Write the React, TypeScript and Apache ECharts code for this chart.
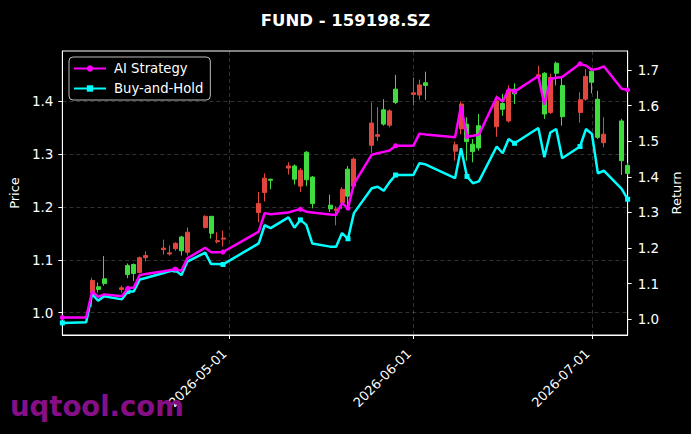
import React, { useEffect, useRef } from 'react';
import * as echarts from 'echarts';

// ---- data ----
const dates = [
  '2026-04-03', '2026-04-07', '2026-04-08', '2026-04-09', '2026-04-10', '2026-04-13', '2026-04-14', '2026-04-15',
  '2026-04-16', '2026-04-17', '2026-04-20', '2026-04-21', '2026-04-22', '2026-04-23', '2026-04-24', '2026-04-27',
  '2026-04-28', '2026-04-29', '2026-04-30',
  '2026-05-06', '2026-05-07', '2026-05-08', '2026-05-11', '2026-05-12', '2026-05-13', '2026-05-14', '2026-05-15',
  '2026-05-18', '2026-05-19', '2026-05-20', '2026-05-21', '2026-05-22', '2026-05-25', '2026-05-26', '2026-05-27',
  '2026-05-28', '2026-05-29',
  '2026-06-01', '2026-06-02', '2026-06-03', '2026-06-08', '2026-06-09', '2026-06-10', '2026-06-11', '2026-06-12',
  '2026-06-15', '2026-06-16', '2026-06-17', '2026-06-18', '2026-06-22', '2026-06-23', '2026-06-24', '2026-06-25',
  '2026-06-26', '2026-06-29', '2026-06-30',
  '2026-07-01', '2026-07-02', '2026-07-03', '2026-07-06', '2026-07-07',
];

const aiStrategy = [
  1.005, 1.005, 1.079, 1.063, 1.070, 1.065, 1.087, 1.089, 1.124, 1.127, 1.135, 1.138, 1.141, 1.136, 1.171, 1.201,
  1.188, 1.188, 1.189,
  1.246, 1.298, 1.295, 1.300, 1.305, 1.309, 1.302, 1.300, 1.294, 1.293, 1.326, 1.312, 1.380, 1.462, 1.466, 1.470,
  1.474, 1.487,
  1.487, 1.521, 1.519, 1.511, 1.599, 1.513, 1.515, 1.518, 1.624, 1.611, 1.646, 1.639, 1.683, 1.602, 1.674, 1.678,
  1.680, 1.717, 1.712,
  1.700, 1.703, 1.710, 1.647, 1.644,
];

const buyAndHold = [
  0.990, 0.992, 1.071, 1.052, 1.065, 1.056, 1.078, 1.078, 1.112, 1.116, 1.130, 1.135, 1.138, 1.124, 1.162, 1.187,
  1.155, 1.155, 1.154,
  1.213, 1.264, 1.256, 1.286, 1.257, 1.279, 1.265, 1.213, 1.204, 1.204, 1.242, 1.226, 1.298, 1.368, 1.372, 1.361,
  1.385, 1.405,
  1.405, 1.438, 1.435, 1.396, 1.480, 1.401, 1.382, 1.387, 1.485, 1.466, 1.506, 1.494, 1.537, 1.455, 1.524, 1.534,
  1.452, 1.485, 1.534,
  1.520, 1.410, 1.417, 1.366, 1.337,
];

// candles exist from 2026-04-08 on
const candleDates = dates.slice(2);

// [open, close, low, high]
const ohlc: number[][] = [
  [1.038, 1.061, 1.011, 1.066], [1.049, 1.044, 1.038, 1.057], [1.064, 1.055, 1.051, 1.107], [1.044, 1.047, 1.038, 1.051],
  [1.089, 1.072, 1.065, 1.093], [1.091, 1.074, 1.060, 1.093], [1.076, 1.104, 1.074, 1.106], [1.104, 1.108, 1.097, 1.116],
  [1.119, 1.122, 1.110, 1.138], [1.111, 1.113, 1.108, 1.127], [1.121, 1.131, 1.117, 1.133], [1.143, 1.117, 1.108, 1.145],
  [1.114, 1.152, 1.108, 1.161], [1.161, 1.182, 1.159, 1.184], [1.182, 1.150, 1.140, 1.182], [1.134, 1.136, 1.131, 1.152],
  [1.139, 1.141, 1.125, 1.155],
  [1.189, 1.206, 1.171, 1.228], [1.227, 1.254, 1.210, 1.263], [1.252, 1.250, 1.233, 1.253], [1.273, 1.277, 1.261, 1.284],
  [1.277, 1.252, 1.242, 1.280], [1.239, 1.269, 1.228, 1.273], [1.303, 1.251, 1.239, 1.305], [1.256, 1.206, 1.197, 1.258],
  [1.203, 1.196, 1.190, 1.223], [1.193, 1.196, 1.165, 1.201], [1.208, 1.233, 1.196, 1.237], [1.271, 1.220, 1.201, 1.277],
  [1.239, 1.290, 1.236, 1.293], [1.316, 1.358, 1.302, 1.397], [1.333, 1.336, 1.324, 1.388], [1.383, 1.356, 1.353, 1.403],
  [1.354, 1.381, 1.350, 1.384], [1.422, 1.397, 1.394, 1.449],
  [1.412, 1.415, 1.391, 1.444], [1.411, 1.430, 1.402, 1.440], [1.434, 1.429, 1.402, 1.455], [1.305, 1.317, 1.287, 1.323],
  [1.347, 1.394, 1.337, 1.399], [1.356, 1.323, 1.287, 1.369], [1.318, 1.304, 1.284, 1.328], [1.353, 1.311, 1.306, 1.375],
  [1.351, 1.400, 1.332, 1.410], [1.395, 1.384, 1.372, 1.413], [1.362, 1.420, 1.359, 1.429], [1.422, 1.413, 1.394, 1.433],
  [1.445, 1.449, 1.440, 1.466], [1.452, 1.375, 1.366, 1.454], [1.378, 1.444, 1.375, 1.451], [1.471, 1.452, 1.429, 1.474],
  [1.429, 1.370, 1.353, 1.444], [1.378, 1.402, 1.359, 1.416], [1.403, 1.446, 1.400, 1.460],
  [1.456, 1.435, 1.414, 1.458], [1.403, 1.331, 1.328, 1.419], [1.321, 1.337, 1.312, 1.369], [1.362, 1.287, 1.260, 1.366],
  [1.278, 1.263, 1.261, 1.283],
];

const dateTicks = ['2026-05-01', '2026-06-01', '2026-07-01'];
const priceTicks = [1.0, 1.1, 1.2, 1.3, 1.4];
const returnTicks = [1.0, 1.1, 1.2, 1.3, 1.4, 1.5, 1.6, 1.7];

const ts = (s: string) => {
  const [y, m, d] = s.split('-').map(Number);
  return new Date(y, m - 1, d).getTime();
};
const pad = (n: number) => (n < 10 ? '0' + n : '' + n);
const fmtDate = (v: number) => {
  const d = new Date(v);
  return `${d.getFullYear()}-${pad(d.getMonth() + 1)}-${pad(d.getDate())}`;
};

const FONT = 'DejaVu Sans';
const RED = '#e2463c';
const GREEN = '#3fdc3f';

export default function App() {
  const ref = useRef<HTMLDivElement>(null);
  useEffect(() => {
    if (!ref.current) return;
    const chart = echarts.init(ref.current, null, { renderer: 'svg' });
    const grid = 'rgba(255,255,255,0.28)';
    const candleData = candleDates.map((d, i) => [ts(d), ohlc[i][0], ohlc[i][1], ohlc[i][2], ohlc[i][3]]);
    const markerSize = (_v: any, p: any) => (p.dataIndex % 6 === 0 ? 5 : 0);
    chart.setOption({
      animation: false,
      backgroundColor: '#000',
      title: {
        text: 'FUND - 159198.SZ',
        left: 'center',
        top: 7,
        textStyle: { color: '#fff', fontSize: 16.5, fontWeight: 'bold', fontFamily: FONT },
      },
      legend: {
        orient: 'vertical',
        left: 69,
        top: 57,
        itemWidth: 32,
        itemHeight: 8,
        itemGap: 7,
        padding: [5, 7, 5, 4],
        backgroundColor: 'rgba(0,0,0,0.85)',
        borderColor: '#bbb',
        borderWidth: 1,
        borderRadius: 4,
        textStyle: { color: '#fff', fontSize: 13.2, fontFamily: FONT, padding: [0, 0, 0, 3] },
        data: ['AI Strategy', 'Buy-and-Hold'],
      },
      grid: { left: 62, right: 61, top: 51, bottom: 99, show: true, borderColor: '#fff', borderWidth: 1, backgroundColor: '#000' },
      xAxis: {
        type: 'value',
        min: ts('2026-04-03'),
        max: ts('2026-07-07'),
        axisLine: { lineStyle: { color: '#fff' } },
        axisTick: { show: true, length: 4, lineStyle: { color: '#fff' }, customValues: dateTicks.map(ts) },
        axisLabel: {
          color: '#fff', fontSize: 13, fontFamily: FONT, rotate: 45, margin: 21,
          verticalAlign: 'bottom',
          customValues: dateTicks.map(ts),
          formatter: (v: number) => fmtDate(v),
        },
        splitLine: { show: true, lineStyle: { color: grid, type: [4, 3], width: 0.7 } },
      },
      yAxis: [
        {
          type: 'value',
          position: 'left',
          min: 0.958,
          max: 1.494,
          name: 'Price',
          nameLocation: 'middle',
          nameRotate: 90,
          nameGap: 36,
          nameTextStyle: { color: '#fff', fontSize: 13, fontFamily: FONT },
          axisLine: { show: true, lineStyle: { color: '#fff' } },
          axisTick: { show: true, length: 4, lineStyle: { color: '#fff' }, customValues: priceTicks },
          axisLabel: {
            color: '#fff', fontSize: 13.5, fontFamily: FONT, margin: 9,
            customValues: priceTicks,
            formatter: (v: number) => v.toFixed(1),
          },
          splitLine: { show: true, lineStyle: { color: grid, type: [4, 3], width: 0.7 } },
        },
        {
          type: 'value',
          position: 'right',
          min: 0.956,
          max: 1.753,
          name: 'Return',
          nameLocation: 'middle',
          nameRotate: 90,
          nameGap: 34,
          nameTextStyle: { color: '#fff', fontSize: 13, fontFamily: FONT },
          axisLine: { show: true, lineStyle: { color: '#fff' } },
          axisTick: { show: true, length: 4, lineStyle: { color: '#fff' }, customValues: returnTicks },
          axisLabel: {
            color: '#fff', fontSize: 13.5, fontFamily: FONT, margin: 10,
            customValues: returnTicks,
            formatter: (v: number) => v.toFixed(1),
          },
          splitLine: { show: false },
        },
      ],
      series: [
        {
          name: 'Price',
          type: 'candlestick',
          yAxisIndex: 0,
          barWidth: 4.5,
          encode: { x: 0, y: [1, 2, 3, 4] },
          data: candleData,
          itemStyle: { color: RED, color0: GREEN, borderColor: RED, borderColor0: GREEN, borderWidth: 1 },
          z: 2,
        },
        {
          name: 'AI Strategy',
          type: 'line',
          yAxisIndex: 1,
          data: dates.map((d, i) => [ts(d), aiStrategy[i]]),
          color: '#ff00ff',
          lineStyle: { width: 2.5, color: '#ff00ff' },
          itemStyle: { color: '#ff00ff' },
          symbol: 'circle',
          symbolSize: markerSize,
          showSymbol: true,
          showAllSymbol: true,
          z: 4,
        },
        {
          name: 'Buy-and-Hold',
          type: 'line',
          yAxisIndex: 1,
          data: dates.map((d, i) => [ts(d), buyAndHold[i]]),
          color: '#00ffff',
          lineStyle: { width: 2.5, color: '#00ffff' },
          itemStyle: { color: '#00ffff' },
          symbol: 'rect',
          symbolSize: markerSize,
          showSymbol: true,
          showAllSymbol: true,
          z: 3,
        },
      ],
      graphic: [
        {
          type: 'text',
          left: 10,
          top: 392,
          style: { text: 'uqtool.com', fill: '#860f88', font: `bold 27.5px "${FONT}"` },
          z: 10,
        },
      ],
    });
    return () => chart.dispose();
  }, []);
  return <div ref={ref} style={{ position: 'fixed', left: 0, top: 0, width: 691, height: 434 }} />;
}
